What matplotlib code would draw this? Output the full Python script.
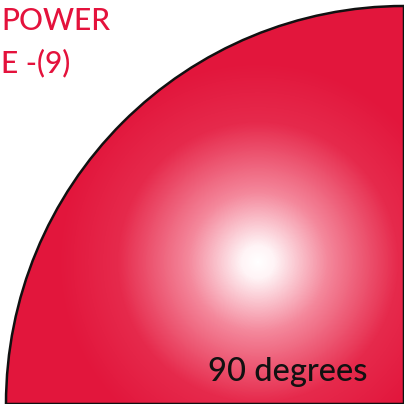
import numpy as np
import matplotlib
matplotlib.use("Agg")
import matplotlib.pyplot as plt
from matplotlib.patches import Wedge
from matplotlib.colors import LinearSegmentedColormap

# data
angle_deg = [90]
title_lines = ["POWER", "E -(9)"]
angle_label = ["90 degrees"]

W = 404
fig = plt.figure(figsize=(4.04, 4.04), dpi=100)
ax = fig.add_axes([0, 0, 1, 1])
ax.set_xlim(0, W)
ax.set_ylim(W, 0)
ax.axis("off")

cx, cy, R = 404, 404, 398
yy, xx = np.mgrid[0:W, 0:W] + 0.5
fx, fy = 258, 262
d = np.hypot(xx - fx, yy - fy)
t = np.clip(d / 200.0, 0, 1)
cmap = LinearSegmentedColormap.from_list("g", [(0, "#ffffff"), (0.08, "#fff4f6"), (0.35, "#f4879b"),
                                                (0.7, "#e62a4c"), (1.0, "#e2163c")])
im = ax.imshow(t, cmap=cmap, extent=(0, W, W, 0), vmin=0, vmax=1, interpolation="bilinear")
wedge = Wedge((cx, cy), R, 180, 180 + angle_deg[0], transform=ax.transData,
              facecolor="none", edgecolor="#111111", linewidth=1.8)
clipw = Wedge((cx, cy), R, 180, 180 + angle_deg[0], transform=ax.transData)
ax.add_patch(wedge)
im.set_clip_path(clipw)

ax.text(1, 21, title_lines[0], color="#e4123c", fontsize=21.5, family="Lato", fontweight="medium", va="center", ha="left")
ax.text(1, 63, title_lines[1], color="#e4123c", fontsize=21.5, family="Lato", fontweight="medium", va="center", ha="left")
ax.text(368, 372, angle_label[0], color="#111111", fontsize=23.5, family="Lato", fontweight="medium", va="center", ha="right")

fig.savefig("out.png", dpi=100)
